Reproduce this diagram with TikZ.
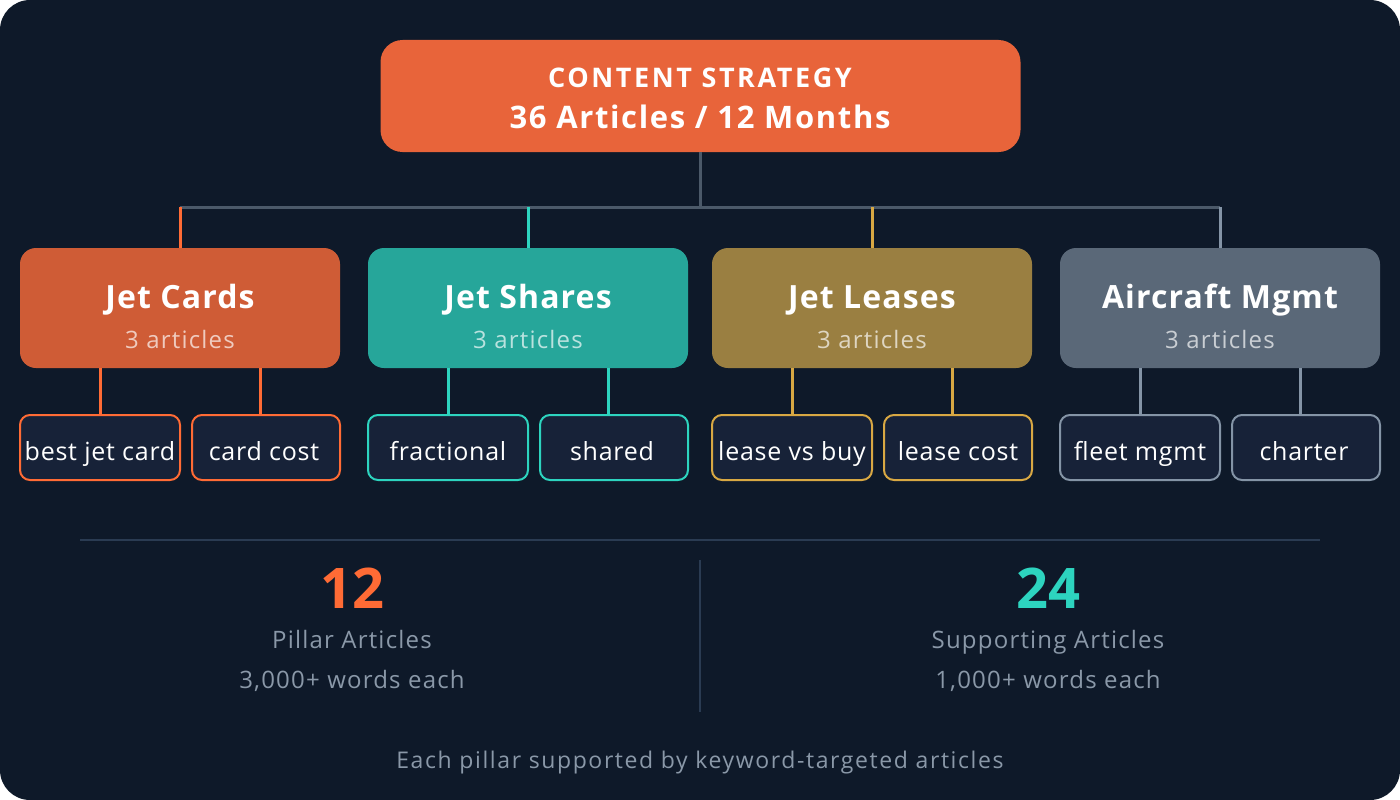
\documentclass[tikz,border=0pt]{standalone}
\usepackage{fontspec}
\setmainfont{Open Sans}
\definecolor{bg}{HTML}{0E1929}
\definecolor{topc}{HTML}{E8643A}
\definecolor{trunk}{HTML}{4B5969}
\definecolor{cardf}{HTML}{CF5C36}
\definecolor{cardl}{HTML}{FF6B35}
\definecolor{sharef}{HTML}{26A69A}
\definecolor{sharel}{HTML}{2DD4BF}
\definecolor{leasef}{HTML}{9A7F41}
\definecolor{leasel}{HTML}{D8A843}
\definecolor{mgmtf}{HTML}{5A6878}
\definecolor{mgmtl}{HTML}{8494A6}
\definecolor{childf}{HTML}{172238}
\definecolor{divc}{HTML}{2A3B52}
\definecolor{greyt}{HTML}{8A98A8}
\tikzset{
  topbox/.style={fill=topc, rounded corners=22pt, minimum width=640pt, minimum height=112pt, inner sep=0pt},
  pillar/.style={fill=#1, rounded corners=16pt, minimum width=320pt, minimum height=120pt, inner sep=0pt},
  childbox/.style={fill=childf, draw=#1, line width=2pt, rounded corners=10pt, minimum height=65pt, inner sep=0pt},
  ptitle/.style={anchor=base, text=white, font=\fontsize{32}{34}\selectfont\bfseries\addfontfeature{LetterSpace=3.5}},
  psub/.style={anchor=base, text=white, text opacity=0.68, font=\fontsize{24}{26}\selectfont\addfontfeature{LetterSpace=5}},
  ctext/.style={anchor=base, text=white, font=\fontsize{25}{27}\selectfont\addfontfeature{LetterSpace=3}},
  conn/.style={draw=#1, line width=3pt},
  stat/.style={anchor=base, font=\fontsize{56}{58}\selectfont\bfseries},
  greytext/.style={anchor=base, text=greyt, font=\fontsize{24}{26}\selectfont\addfontfeature{LetterSpace=5}},
}
\begin{document}
\begin{tikzpicture}[x=1pt,y=-1pt]
\useasboundingbox (0,0) rectangle (1400,800);
\fill[white] (0,0) rectangle (1400,800);
\fill[bg, rounded corners=30pt] (0,0) rectangle (1400,800);

% top box
\node[topbox] (top) at (700.5,96) {};
\node[anchor=base, text=white, font=\fontsize{27}{29}\selectfont\bfseries\addfontfeature{LetterSpace=9.5}] (t1) at (700,88) {CONTENT STRATEGY};
\node[anchor=base, text=white, font=\fontsize{31}{33}\selectfont\bfseries\addfontfeature{LetterSpace=5.3}] (t2) at (700,128) {36 Articles / 12 Months};

% pillars
\node[pillar=cardf] (p1) at (180,308) {};
\node[pillar=sharef] (p2) at (528,308) {};
\node[pillar=leasef] (p3) at (872,308) {};
\node[pillar=mgmtf] (p4) at (1220,308) {};

\node[ptitle] (p1t) at (180,308) {Jet Cards};
\node[ptitle] (p2t) at (528,308) {Jet Shares};
\node[ptitle] (p3t) at (872,308) {Jet Leases};
\node[ptitle] (p4t) at (1220,308) {Aircraft Mgmt};
\node[psub] (p1s) at (180,348) {3 articles};
\node[psub] (p2s) at (528,348) {3 articles};
\node[psub] (p3s) at (872,348) {3 articles};
\node[psub] (p4s) at (1220,348) {3 articles};

% bus
\coordinate (busL) at (180,207);
\coordinate (busR) at (1220,207);
\draw[conn=trunk] (top.south) -- (top.south |- busL);
\draw[conn=trunk] (busL) -- (busR);
\draw[conn=cardl] (p1.north) -- (p1.north |- busL);
\draw[conn=sharel] (p2.north) -- (p2.north |- busL);
\draw[conn=leasel] (p3.north) -- (p3.north |- busL);
\draw[conn=mgmtl] (p4.north) -- (p4.north |- busL);

% children
\node[childbox=cardl, minimum width=160pt] (c1) at (100,447.5) {};
\node[childbox=cardl, minimum width=148pt] (c2) at (266,447.5) {};
\node[childbox=sharel, minimum width=160pt] (c3) at (448,447.5) {};
\node[childbox=sharel, minimum width=148pt] (c4) at (614,447.5) {};
\node[childbox=leasel, minimum width=160pt] (c5) at (792,447.5) {};
\node[childbox=leasel, minimum width=148pt] (c6) at (958,447.5) {};
\node[childbox=mgmtl, minimum width=160pt] (c7) at (1140,447.5) {};
\node[childbox=mgmtl, minimum width=148pt] (c8) at (1306,447.5) {};

\node[ctext] (c1t) at (100,460) {best jet card};
\node[ctext] (c2t) at (264,460) {card cost};
\node[ctext] (c3t) at (448,460) {fractional};
\node[ctext] (c4t) at (612,460) {shared};
\node[ctext] (c5t) at (792,460) {lease vs buy};
\node[ctext] (c6t) at (958,460) {lease cost};
\node[ctext] (c7t) at (1140,460) {fleet mgmt};
\node[ctext] (c8t) at (1304,460) {charter};

\draw[conn=cardl] (c1.north) -- (c1.north |- p1.south);
\draw[conn=cardl] ([xshift=-6pt]c2.north) -- ([xshift=-6pt]c2.north |- p1.south);
\draw[conn=sharel] (c3.north) -- (c3.north |- p2.south);
\draw[conn=sharel] ([xshift=-6pt]c4.north) -- ([xshift=-6pt]c4.north |- p2.south);
\draw[conn=leasel] (c5.north) -- (c5.north |- p3.south);
\draw[conn=leasel] ([xshift=-6pt]c6.north) -- ([xshift=-6pt]c6.north |- p3.south);
\draw[conn=mgmtl] (c7.north) -- (c7.north |- p4.south);
\draw[conn=mgmtl] ([xshift=-6pt]c8.north) -- ([xshift=-6pt]c8.north |- p4.south);

% dividers
\coordinate (hl) at (80,540);
\coordinate (hr) at (1320,540);
\draw[divc, line width=1.2pt] (hl) -- (hr);
\coordinate (vt) at (700,560);
\coordinate (vb) at (700,712);
\draw[divc, line width=1.2pt] (vt) -- (vb);

% stats
\node[stat, text=cardl] (s1) at (352,608) {12};
\node[greytext] (s1a) at (352,648) {Pillar Articles};
\node[greytext] (s1b) at (352,688) {3,000+ words each};
\node[stat, text=sharel] (s2) at (1048,608) {24};
\node[greytext] (s2a) at (1048,648) {Supporting Articles};
\node[greytext] (s2b) at (1048,688) {1,000+ words each};

\node[greytext, font=\fontsize{23}{25}\selectfont\addfontfeature{LetterSpace=7}] (foot) at (700,768) {Each pillar supported by keyword-targeted articles};
\end{tikzpicture}
\end{document}
